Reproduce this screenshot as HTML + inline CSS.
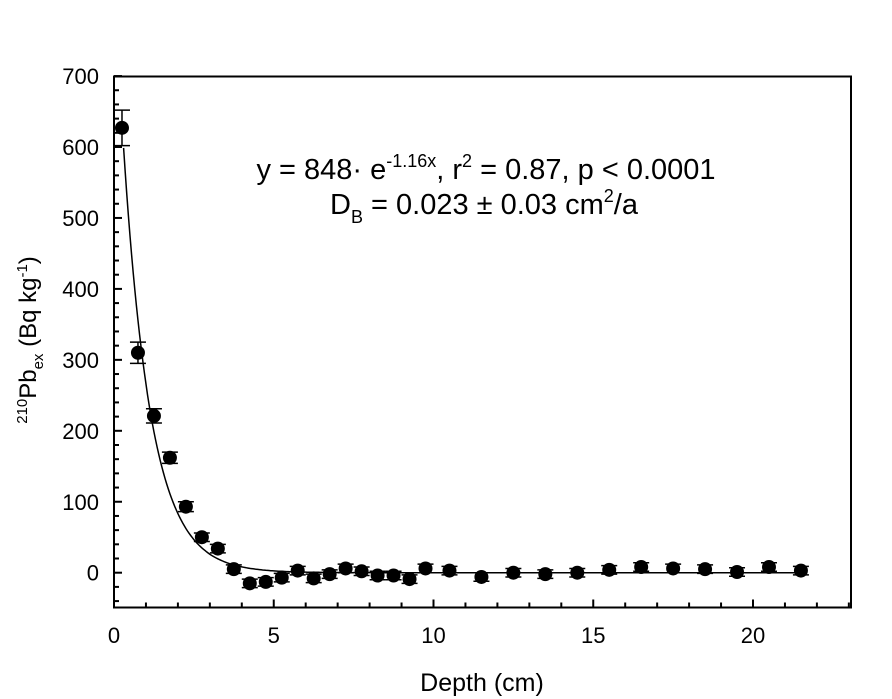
<!DOCTYPE html>
<html><head><meta charset="utf-8"><style>
body{margin:0;background:#fff;}
svg{display:block;font-family:"Liberation Sans",Arial,sans-serif;}
</style></head><body>
<svg id="s" width="892" height="699" xmlns="http://www.w3.org/2000/svg">
<rect x="114" y="76.5" width="737" height="531" fill="none" stroke="#000" stroke-width="2"/>
<g id="g"></g>
<text x="486" y="179" font-size="29" text-anchor="middle">y = 848· e<tspan dy="-12" font-size="18">-1.16x</tspan><tspan dy="12">, r</tspan><tspan dy="-12" font-size="18">2</tspan><tspan dy="12"> = 0.87, p &lt; 0.0001</tspan></text>
<text x="484" y="214" font-size="29" text-anchor="middle">D<tspan dy="9" font-size="18">B</tspan><tspan dy="-9"> = 0.023 ± 0.03 cm</tspan><tspan dy="-12" font-size="18">2</tspan><tspan dy="12">/a</tspan></text>
<text x="482" y="691" font-size="25" text-anchor="middle">Depth (cm)</text>
<text transform="translate(36,340) rotate(-90)" font-size="24" text-anchor="middle"><tspan font-size="15" dy="-9">210</tspan><tspan dy="9">Pb</tspan><tspan font-size="15" dy="7">ex</tspan><tspan dy="-7"> (Bq kg</tspan><tspan font-size="15" dy="-9">-1</tspan><tspan dy="9">)</tspan></text>
</svg>
<script>
var g=document.getElementById('g'),h='';
function X(v){return 114+v*31.95}
function Y(v){return 572.7-v*0.7095}
for(var v=0;v<=23;v++){var L=v%5==0?8:5;h+='<line x1="'+X(v)+'" x2="'+X(v)+'" y1="607.5" y2="'+(607.5-L)+'" stroke="#000" stroke-width="2"/>';
if(v%5==0&&v<=20)h+='<text x="'+X(v)+'" y="643" font-size="22" text-anchor="middle">'+v+'</text>';}
for(var v=-40;v<=700;v+=20){var L=v%100==0?8:5;h+='<line x1="114" x2="'+(114+L)+'" y1="'+Y(v)+'" y2="'+Y(v)+'" stroke="#000" stroke-width="2"/>';
if(v%100==0)h+='<text x="99" y="'+(Y(v)+8)+'" font-size="22" text-anchor="end">'+v+'</text>';}
var p='';for(var x=0.3;x<=21.5;x+=0.05){var y=848*Math.exp(-1.16*x);p+=(p?'L':'M')+X(x).toFixed(1)+','+Y(y).toFixed(1);}
h+='<path d="'+p+'" fill="none" stroke="#000" stroke-width="1.5"/>';
var d=[[0.25,627,25],[0.75,310,15],[1.25,221,10],[1.75,162,8],[2.25,93,7],[2.75,50,6],[3.25,34,6],[3.75,5,6],[4.25,-15,6],[4.75,-13,6],[5.25,-7,6],[5.75,3,6],[6.25,-8,6],[6.75,-2,6],[7.25,6,6],[7.75,2,6],[8.25,-4,6],[8.75,-4,6],[9.25,-9,6],[9.75,6,6],[10.5,3,6],[11.5,-6,6],[12.5,0,6],[13.5,-2,6],[14.5,0,6],[15.5,4,6],[16.5,8,6],[17.5,6,6],[18.5,5,6],[19.5,1,6],[20.5,8,6],[21.5,3,6]];
d.forEach(function(q){var x=X(q[0]),a=Y(q[1]+q[2]),b=Y(q[1]-q[2]);
h+='<line x1="'+x+'" x2="'+x+'" y1="'+a+'" y2="'+b+'" stroke="#000" stroke-width="1.5"/>';
h+='<line x1="'+(x-8)+'" x2="'+(x+8)+'" y1="'+a+'" y2="'+a+'" stroke="#000" stroke-width="1.5"/>';
h+='<line x1="'+(x-8)+'" x2="'+(x+8)+'" y1="'+b+'" y2="'+b+'" stroke="#000" stroke-width="1.5"/>';
h+='<circle cx="'+x+'" cy="'+Y(q[1])+'" r="7" fill="#000"/>';});
g.innerHTML=h;
</script>
</body></html>
